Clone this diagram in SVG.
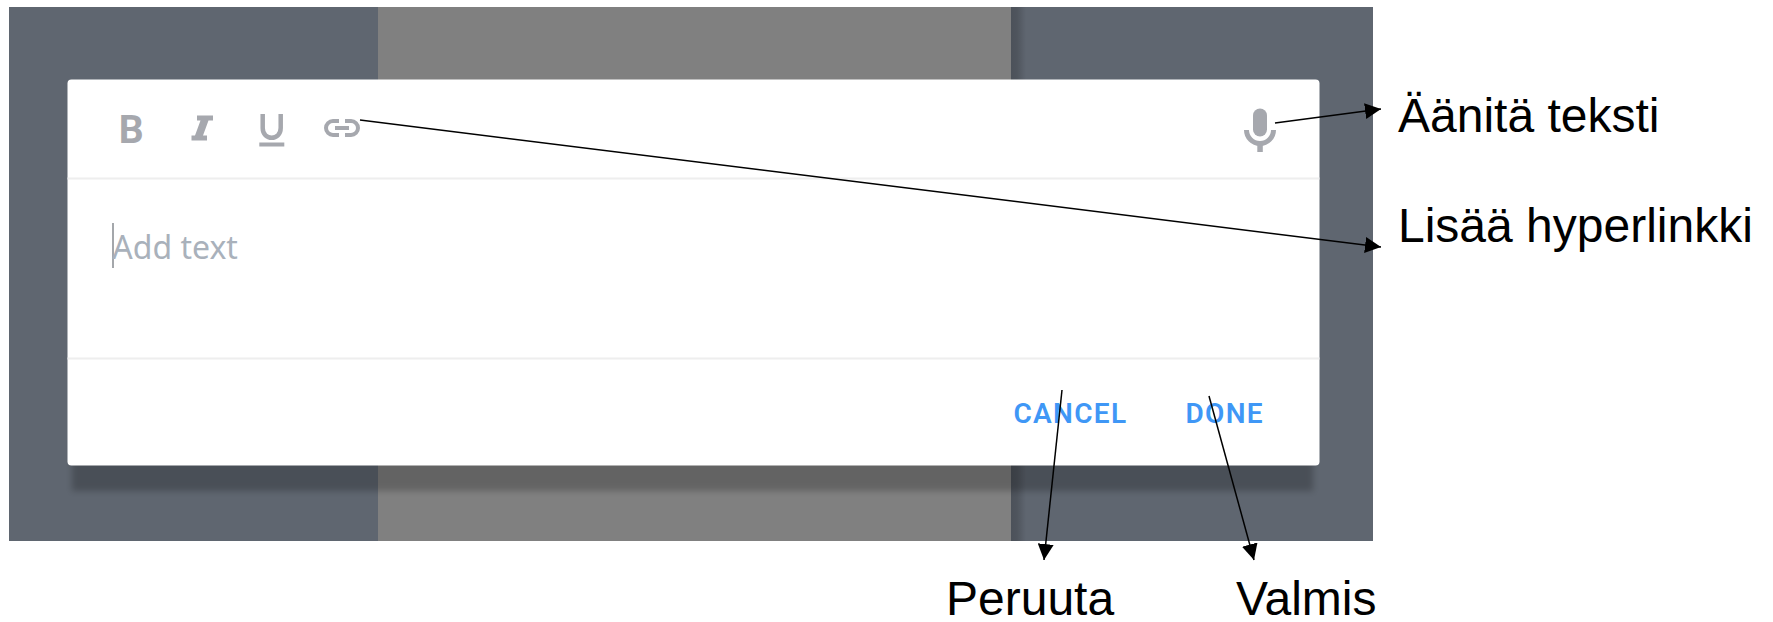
<svg xmlns="http://www.w3.org/2000/svg" width="1773" height="622" viewBox="0 0 1773 622">
<style>
.lbl{font-family:"Liberation Sans",Arial,sans-serif;font-size:48px;fill:#000}
.btn{font-family:Roboto,"Liberation Sans",sans-serif;font-size:28px;font-weight:600;fill:#3f97f6;letter-spacing:1.3px}
.ico{fill:#a6a8ae}
.icos{fill:none;stroke:#a6a8ae}
.sep{fill:#eeeeee}
.con{stroke:#000;stroke-width:1.5;fill:none;marker-end:url(#arr)}
</style>
<defs>
<marker id="arr" markerUnits="userSpaceOnUse" markerWidth="17" markerHeight="16" refX="16" refY="8" orient="auto"><path d="M0 0L16 8L0 16Z" fill="#000"/></marker>
<filter id="sh" x="-5%" y="-20%" width="110%" height="140%"><feGaussianBlur stdDeviation="3"/></filter>
<linearGradient id="edge" x1="0" x2="1" y1="0" y2="0"><stop offset="0" stop-color="#000" stop-opacity=".2"/><stop offset=".4" stop-color="#000" stop-opacity=".17"/><stop offset="1" stop-color="#000" stop-opacity="0"/></linearGradient>
<clipPath id="bgc"><rect x="9" y="7" width="1364" height="534"/></clipPath>
</defs>
<g id="background">
<rect x="9" y="7" width="1364" height="534" fill="#5f6670"/>
<rect x="378" y="7" width="633" height="534" fill="#808080"/>
<rect x="1011" y="7" width="15" height="534" fill="url(#edge)"/>
<g clip-path="url(#bgc)">
<rect x="72" y="440" width="1241" height="51" fill="#000" opacity=".22" filter="url(#sh)"/>
</g>
</g>
<g id="card">
<rect x="67.5" y="79.5" width="1252" height="386" rx="4" fill="#fff"/>
<rect class="sep" x="67.5" y="177.5" width="1252" height="2"/>
<rect class="sep" x="67.5" y="357.5" width="1252" height="2"/>
</g>
<g id="icon-bold"><text x="118.7" y="143" font-family="Roboto,sans-serif" font-weight="700" font-size="39" fill="#a6a8ae">B</text></g>
<g id="icon-italic"><path class="ico" d="M197 115.5H213V120.5H208.5L203 135.5H207V140.5H191.5V135.5H195L200.5 120.5H197Z"/></g>
<g id="icon-underline"><path class="icos" stroke-width="4.5" d="M262.7 114V128C262.7 141 280.7 141 280.7 128V114"/><rect class="ico" x="259.3" y="142.5" width="25" height="4"/></g>
<g id="icon-link"><path class="icos" stroke-width="4" d="M339 121H333A7 7 0 0 0 333 135H339M345 121H351A7 7 0 0 1 351 135H345M335 128H349"/></g>
<g id="icon-mic"><rect class="ico" x="1253" y="108.5" width="14" height="28" rx="7"/><path class="icos" stroke-width="5" d="M1246.5 130A13.5 13.5 0 0 0 1273.5 130"/><rect class="ico" x="1257.3" y="144" width="5.5" height="8"/></g>
<g id="input"><rect x="112.5" y="223" width="1" height="45" fill="#4a5058"/><text x="112.3" y="258.7" font-family="'Noto Sans','Open Sans',sans-serif" font-size="32" fill="#a9b1bb">Add text</text></g>
<g id="btn-cancel"><text class="btn" x="1013.5" y="422.5">CANCEL</text></g>
<g id="btn-done"><text class="btn" x="1185.5" y="422.5">DONE</text></g>
<g id="connectors">
<line class="con" x1="360" y1="120" x2="1381" y2="247"/>
<line class="con" x1="1275" y1="123" x2="1381" y2="109"/>
<line class="con" x1="1062" y1="390" x2="1044" y2="560"/>
<line class="con" x1="1209" y1="396" x2="1254" y2="560"/>
</g>
<g id="label-record"><text class="lbl" x="1398" y="132">Äänitä teksti</text></g>
<g id="label-link"><text class="lbl" x="1398" y="242">Lisää hyperlinkki</text></g>
<g id="label-cancel"><text class="lbl" x="946" y="615">Peruuta</text></g>
<g id="label-done"><text class="lbl" x="1236" y="615">Valmis</text></g>
</svg>
